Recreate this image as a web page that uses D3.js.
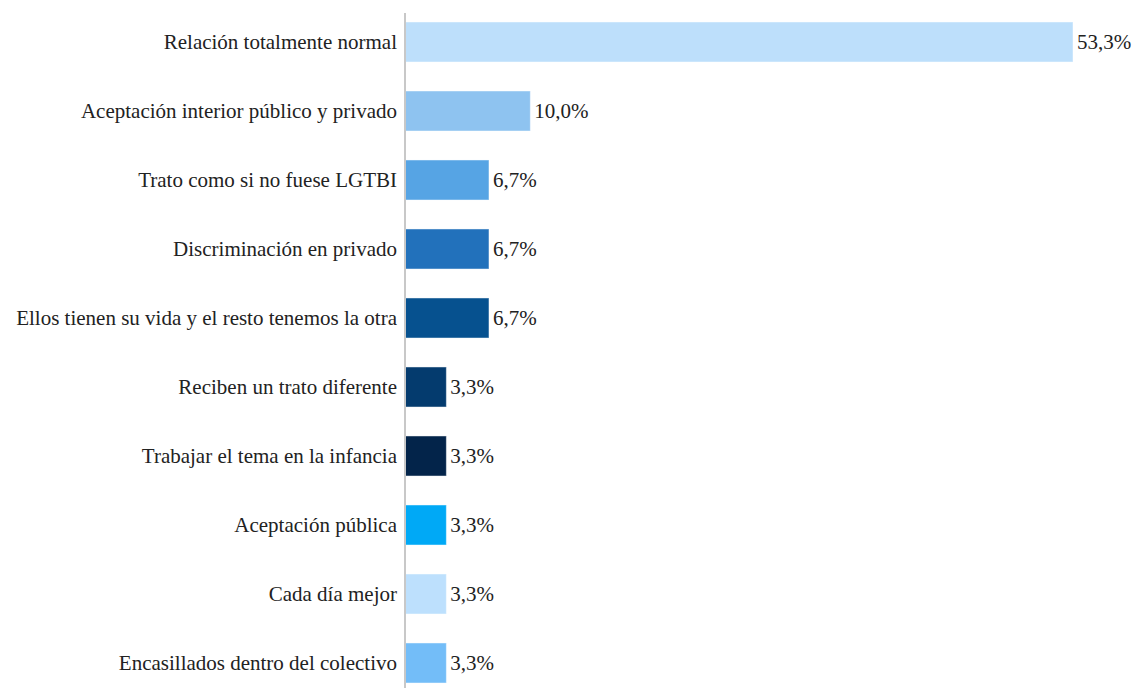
<!DOCTYPE html>
<html>
<head>
<meta charset="utf-8">
<script src="https://cdn.jsdelivr.net/npm/d3@7"></script>
<style>
  html, body { margin: 0; padding: 0; background: #ffffff; }
  svg { display: block; }
  text { font-family: "Liberation Serif", "DejaVu Serif", serif; fill: #222222; }
</style>
</head>
<body>
<svg id="chart" width="1137" height="688"></svg>
<script>
// Categories, top to bottom
const categories = [
  "Relación totalmente normal",
  "Aceptación interior público y privado",
  "Trato como si no fuese LGTBI",
  "Discriminación en privado",
  "Ellos tienen su vida y el resto tenemos la otra",
  "Reciben un trato diferente",
  "Trabajar el tema en la infancia",
  "Aceptación pública",
  "Cada día mejor",
  "Encasillados dentro del colectivo"
];
// Percentages
const values = [53.3, 10.0, 6.7, 6.7, 6.7, 3.3, 3.3, 3.3, 3.3, 3.3];
const valueLabels = ["53,3%", "10,0%", "6,7%", "6,7%", "6,7%", "3,3%", "3,3%", "3,3%", "3,3%", "3,3%"];
const barColors = [
  "#bddffb", "#8ec3f0", "#56a4e4", "#2271bb", "#06518f",
  "#043b6e", "#03244a", "#00a9f6", "#bde0fd", "#73bdf8"
];

const svg = d3.select("#chart");
const axisX = 405;
const fontSize = "21px";

const x = d3.scaleLinear()
  .domain([0, 53.3])
  .range([axisX, 1073]);

const y = d3.scaleBand()
  .domain(categories)
  .range([7.5, 697.5])
  .paddingInner(0.42)
  .paddingOuter(0.21);

// Bars
svg.append("g")
  .selectAll("rect")
  .data(categories)
  .join("rect")
  .attr("x", x(0))
  .attr("y", d => y(d))
  .attr("width", (d, i) => x(values[i]) - x(0))
  .attr("height", y.bandwidth())
  .attr("fill", (d, i) => barColors[i])
  .attr("stroke", "rgba(255,255,255,0.45)")
  .attr("stroke-width", 1);

// Vertical category axis
const yAxis = d3.axisLeft(y).tickSize(0).tickPadding(8);
const gAxis = svg.append("g")
  .attr("transform", `translate(${axisX},0)`)
  .call(yAxis);
gAxis.select(".domain").remove();
gAxis.selectAll("text")
  .style("font-family", '"Liberation Serif", "DejaVu Serif", serif')
  .style("font-size", fontSize)
  .attr("fill", "#222222");

svg.append("line")
  .attr("x1", axisX).attr("x2", axisX)
  .attr("y1", 13).attr("y2", 688)
  .attr("stroke", "#c8c8c8")
  .attr("stroke-width", 2);

// Value labels
svg.append("g")
  .selectAll("text")
  .data(categories)
  .join("text")
  .attr("x", (d, i) => x(values[i]) + 4)
  .attr("y", d => y(d) + y.bandwidth() / 2)
  .attr("dy", "0.32em")
  .style("font-size", fontSize)
  .text((d, i) => valueLabels[i]);
</script>
</body>
</html>
